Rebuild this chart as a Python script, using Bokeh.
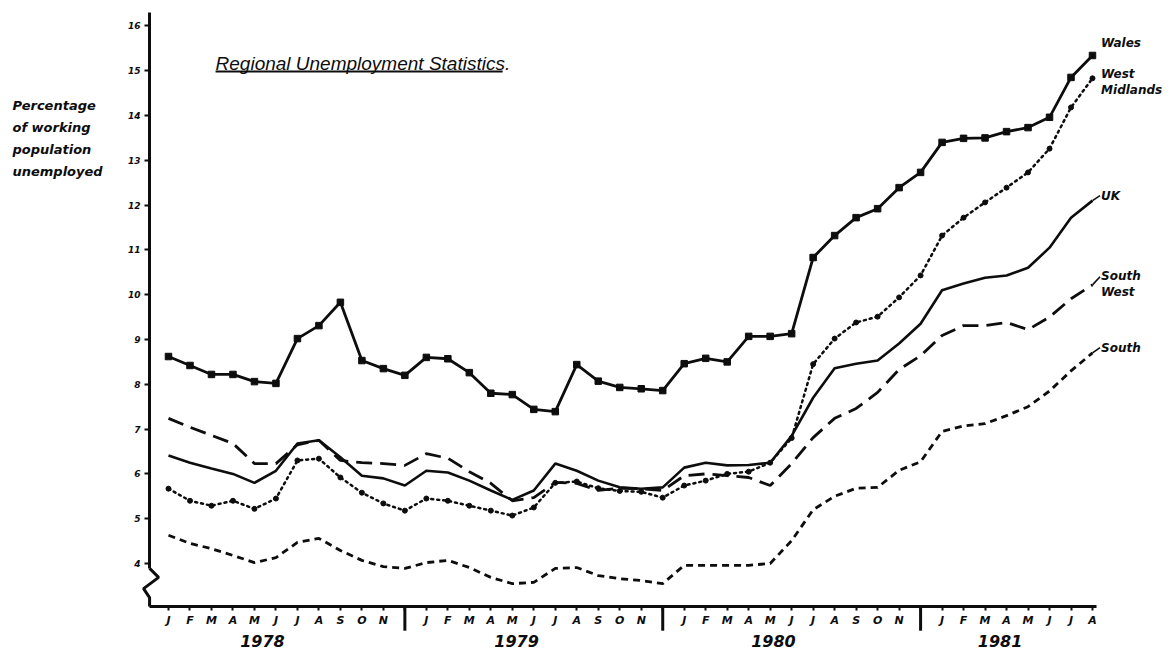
from bokeh.plotting import figure
from bokeh.models import FixedTicker, Range1d, ColumnDataSource
from bokeh.core.properties import value
from bokeh.embed import file_html
from bokeh.resources import INLINE

# ---------------- data ----------------
month_letters = ["J", "F", "M", "A", "M", "J", "J", "A", "S", "O", "N", "D"]
years = ["1978", "1979", "1980", "1981"]
n_months = 44  # Jan 1978 .. Aug 1981
months = list(range(n_months))
month_labels = [month_letters[m % 12] for m in months]

wales = [8.62, 8.42, 8.22, 8.22, 8.06, 8.02, 9.02, 9.31, 9.83, 8.53, 8.35, 8.20,
         8.60, 8.57, 8.26, 7.80, 7.77, 7.44, 7.39, 8.44, 8.07, 7.93, 7.90, 7.86,
         8.46, 8.58, 8.50, 9.07, 9.07, 9.13, 10.83, 11.32, 11.72, 11.92, 12.39, 12.73,
         13.40, 13.49, 13.50, 13.64, 13.73, 13.96, 14.85, 15.34]
west_midlands = [5.67, 5.40, 5.29, 5.40, 5.22, 5.45, 6.30, 6.34, 5.92, 5.58, 5.34, 5.18,
                 5.45, 5.40, 5.29, 5.18, 5.07, 5.25, 5.80, 5.83, 5.68, 5.62, 5.60, 5.47,
                 5.74, 5.85, 6.00, 6.05, 6.25, 6.80, 8.45, 9.02, 9.38, 9.51, 9.94, 10.43,
                 11.32, 11.72, 12.06, 12.39, 12.73, 13.26, 14.18, 14.83]
uk = [6.41, 6.25, 6.12, 6.00, 5.80, 6.07, 6.68, 6.75, 6.37, 5.96, 5.90, 5.74,
      6.07, 6.03, 5.85, 5.63, 5.42, 5.63, 6.23, 6.07, 5.85, 5.70, 5.67, 5.70,
      6.14, 6.25, 6.19, 6.20, 6.25, 6.85, 7.70, 8.36, 8.46, 8.53, 8.91, 9.35,
      10.10, 10.25, 10.38, 10.43, 10.60, 11.05, 11.72, 12.10]
south_west = [7.24, 7.04, 6.86, 6.68, 6.23, 6.23, 6.65, 6.75, 6.30, 6.25, 6.23, 6.19,
              6.45, 6.35, 6.05, 5.79, 5.40, 5.47, 5.81, 5.79, 5.63, 5.68, 5.67, 5.63,
              5.96, 6.00, 5.96, 5.92, 5.74, 6.23, 6.81, 7.24, 7.46, 7.82, 8.33, 8.64,
              9.09, 9.31, 9.31, 9.38, 9.22, 9.50, 9.91, 10.22]
south = [4.63, 4.45, 4.33, 4.18, 4.02, 4.13, 4.47, 4.56, 4.29, 4.07, 3.93, 3.89,
         4.02, 4.07, 3.91, 3.69, 3.55, 3.58, 3.89, 3.91, 3.73, 3.66, 3.62, 3.55,
         3.96, 3.96, 3.96, 3.96, 4.00, 4.51, 5.20, 5.50, 5.68, 5.70, 6.08, 6.27,
         6.95, 7.07, 7.12, 7.30, 7.50, 7.85, 8.30, 8.70]

series_names = ["Wales", "West\nMidlands", "UK", "South\nWest", "South"]
y_ticks = list(range(4, 17))

# ---------------- layout / style constants ----------------
W, H = 1170, 650
AXIS_X = -0.88          # month-units position of the vertical axis
X_AXIS_Y = 3.04         # value-units position of the horizontal axis
BREAK_TOP = 3.89
INK = "#0d0d0d"
FONT = value("DejaVu Sans")

p = figure(width=W, height=H, output_backend="svg", toolbar_location=None,
           x_range=Range1d(-7.818, 46.63), y_range=Range1d(2.058, 16.567),
           min_border=0, min_border_left=0, min_border_right=0,
           min_border_top=0, min_border_bottom=0, title=None)
p.outline_line_color = None
p.xgrid.visible = False
p.ygrid.visible = False
p.background_fill_color = "white"
p.border_fill_color = "white"

# x axis (months)
xa = p.xaxis[0]
xa.fixed_location = X_AXIS_Y
xa.ticker = FixedTicker(ticks=months)
xa.major_label_overrides = {m: (l if l != "D" else "") for m, l in zip(months, month_labels)}
xa.bounds = (AXIS_X, n_months - 1 + 0.2)
xa.axis_line_width = 3
xa.axis_line_color = INK
xa.major_tick_out = 4
xa.major_tick_in = 0
xa.major_tick_line_width = 2
xa.major_tick_line_color = INK
xa.minor_tick_line_color = None
xa.major_label_text_font = "DejaVu Sans"
xa.major_label_text_font_style = "bold italic"
xa.major_label_text_font_size = "11px"
xa.major_label_text_color = INK
xa.major_label_standoff = 3

# y axis (percent)
ya = p.yaxis[0]
ya.fixed_location = AXIS_X
ya.ticker = FixedTicker(ticks=y_ticks)
ya.bounds = (BREAK_TOP, 16.3)
ya.axis_line_width = 3
ya.axis_line_color = INK
ya.major_tick_out = 5
ya.major_tick_in = 0
ya.major_tick_line_width = 2
ya.major_tick_line_color = INK
ya.minor_tick_line_color = None
ya.major_label_text_font = "DejaVu Sans"
ya.major_label_text_font_style = "bold italic"
ya.major_label_text_font_size = "9px"
ya.major_label_text_color = INK
ya.major_label_standoff = 4

# axis break zig-zag and bottom stub of the vertical axis
p.line(x=[AXIS_X, AXIS_X + 0.42, AXIS_X - 0.28, AXIS_X, AXIS_X],
       y=[BREAK_TOP, 3.69, 3.44, 3.24, X_AXIS_Y], line_width=3, color=INK)

# year separators at December
dec = [m for m in months if month_labels[m] == "D"]
p.segment(x0=dec, y0=[X_AXIS_Y] * len(dec), x1=dec, y1=[2.50] * len(dec),
          line_width=3, color=INK)

# year labels
year_x = [4.37, 16.2, 28.15, 38.7]
p.text(x=year_x, y=[2.28] * 4, text=years, text_font=FONT,
       text_font_style="bold italic", text_font_size="16px", text_color=INK,
       text_align="center", text_baseline="middle")

src = ColumnDataSource(dict(m=months, wales=wales, wm=west_midlands, uk=uk,
                            sw=south_west, south=south))

p.line("m", "wales", source=src, line_width=2.8, color=INK)
p.scatter("m", "wales", source=src, marker="square", size=6.5, color=INK)
p.line("m", "wm", source=src, line_width=2.5, color=INK, line_dash="2 4", line_cap="round")
p.scatter("m", "wm", source=src, marker="circle", size=5, color=INK)
p.line("m", "uk", source=src, line_width=2.6, color=INK)
p.line("m", "sw", source=src, line_width=2.8, color=INK, line_dash="16 8")
p.line("m", "south", source=src, line_width=2.8, color=INK, line_dash="7 5")

# series labels at the right-hand end
last = [wales[-1], west_midlands[-1], uk[-1], south_west[-1], south[-1]]
label_dy = [0.27, -0.09, 0.11, 0.01, 0.12]
label_x = n_months - 1 + 0.4
label_y = [v + d for v, d in zip(last, label_dy)]
p.text(x=[label_x] * 5, y=label_y,
       text=series_names, text_font=FONT, text_font_style="bold italic",
       text_font_size="12px", text_color=INK, text_align="left",
       text_baseline="middle", text_line_height=1.15)

# small hand-drawn tails joining the UK, South West and South lines to their names
tail_first_line = [None, None, 0.0, 0.17, 0.0]
tx0, ty0, tx1, ty1 = [], [], [], []
for v, ly, off in zip(last, label_y, tail_first_line):
    if off is None:
        continue
    tx0.append(n_months - 1)
    ty0.append(v)
    tx1.append(label_x - 0.05)
    ty1.append(ly + off)
p.segment(x0=tx0, y0=ty0, x1=tx1, y1=ty1, line_width=1.6, color=INK)

# title with underline
p.text(x=[2.19], y=[15.16], text=["Regional Unemployment Statistics."],
       text_font=value("Liberation Sans"), text_font_style="italic",
       text_font_size="19px", text_color=INK,
       text_align="left", text_baseline="alphabetic")
p.segment(x0=[2.19], y0=[14.98], x1=[15.55], y1=[14.98], line_width=2, color=INK)

# y-axis description
p.text(x=[-7.26], y=[14.38], text=["Percentage\nof working\npopulation\nunemployed"],
       text_font=FONT, text_font_style="bold italic", text_font_size="13px",
       text_color=INK, text_align="left", text_baseline="top", text_line_height=1.45)

open("out.html", "w").write(file_html(p, INLINE))
